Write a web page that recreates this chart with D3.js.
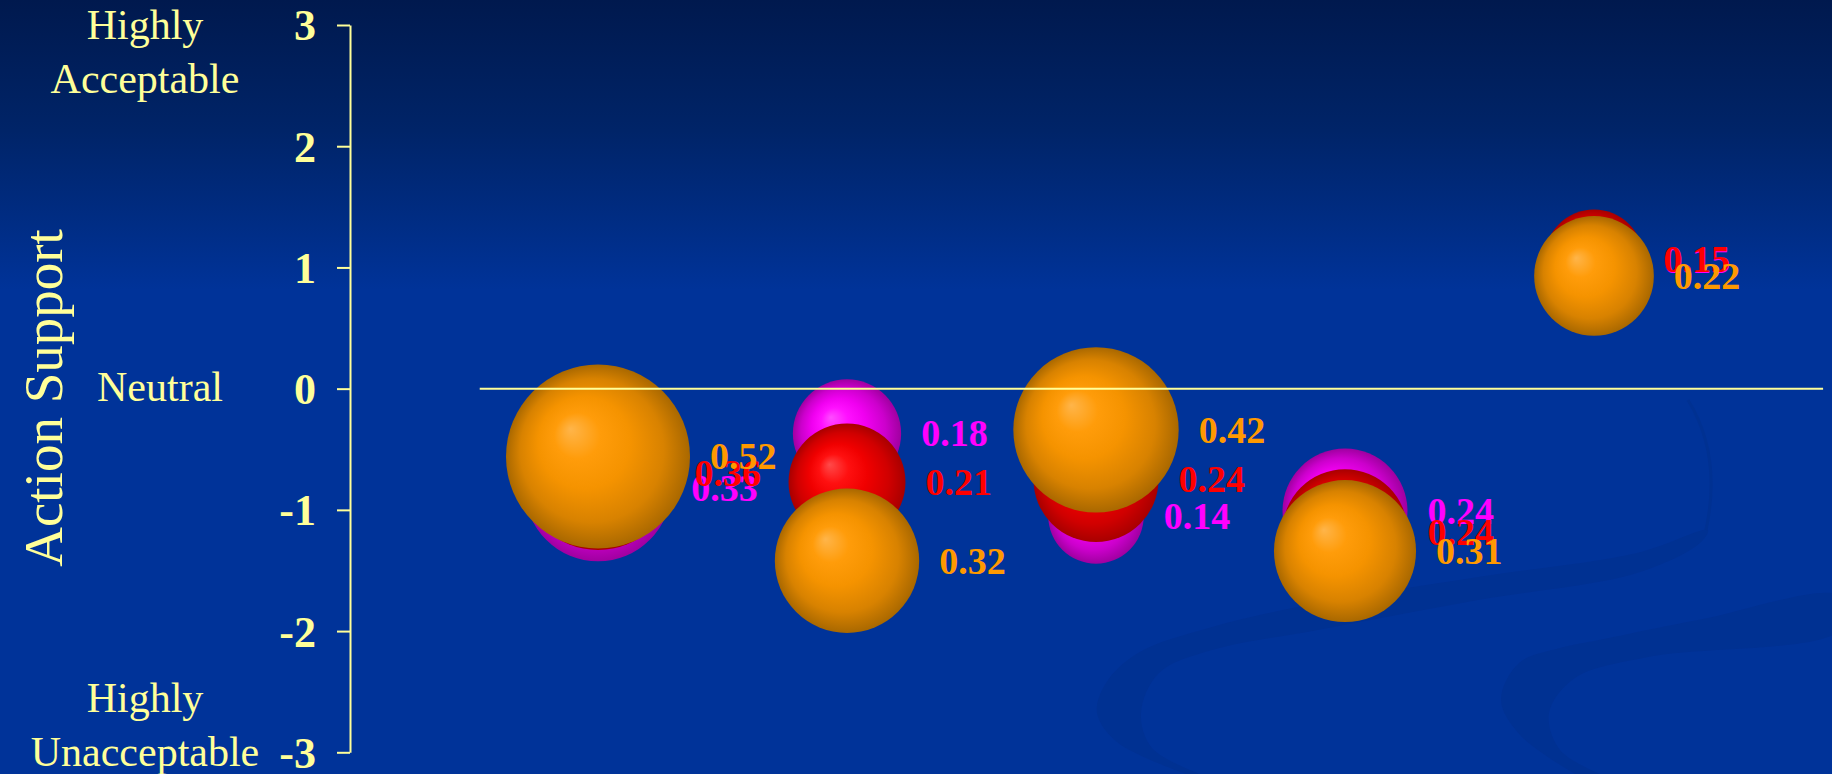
<!DOCTYPE html>
<html>
<head>
<meta charset="utf-8">
<script src="https://cdn.jsdelivr.net/npm/d3@7"></script>
<style>
  html, body { margin: 0; padding: 0; background: #003399; overflow: hidden; }
  svg { display: block; }
</style>
</head>
<body>
<svg id="chart" width="1832" height="774"></svg>
<script>
// ---- data ----
const groups = [1, 2, 3, 4, 5];
const yTicks = [-3, -2, -1, 0, 1, 2, 3];
const magentaY = [-0.82, -0.37, -1.05, -1.01, 1.06];
const magentaSize = [0.33, 0.18, 0.14, 0.24, 0.15];
const redY = [-0.70, -0.77, -0.75, -1.18, 1.07];
const redSize = [0.36, 0.21, 0.24, 0.24, 0.15];
const orangeY = [-0.56, -1.42, -0.34, -1.34, 0.93];
const orangeSize = [0.52, 0.32, 0.42, 0.31, 0.22];
const seriesNames = ["magenta", "red", "orange"];

const W = 1832, H = 774;
const svg = d3.select("#chart");
const defs = svg.append("defs");

// background gradient
const bg = defs.append("linearGradient").attr("id", "bg")
  .attr("gradientUnits", "userSpaceOnUse").attr("x1", 0).attr("y1", 0).attr("x2", 0).attr("y2", 290);
bg.append("stop").attr("offset", 0).attr("stop-color", "#00194e");
bg.append("stop").attr("offset", 0.45).attr("stop-color", "#002468");
bg.append("stop").attr("offset", 1).attr("stop-color", "#003399");
svg.append("rect").attr("width", W).attr("height", H).attr("fill", "url(#bg)");

// decorative swooshes (background art)
const swoosh1 = [[1186,774],[1117,742],[1097,713],[1106,683],[1138,653],[1212,627],[1318,603],[1478,577],[1637,553],[1708,530],
                 [1700,543],[1637,573],[1478,600],[1318,630],[1212,650],[1159,673],[1141,713],[1152,748],[1200,774]];
const swoosh2 = [[1575,774],[1520,735],[1501,700],[1519,663],[1560,648],[1599,640],[1698,620],[1840,596],
                 [1840,630],[1648,657],[1575,678],[1549,713],[1560,750],[1600,774]];
const swColor = "#003192";
svg.append("path").attr("d", d3.line().curve(d3.curveCatmullRom)(swoosh1)).attr("fill", swColor);
svg.append("path").attr("d", d3.line().curve(d3.curveCatmullRom)(swoosh2)).attr("fill", swColor);
svg.append("path").attr("d", "M1688,400 Q1722,455 1706,530").attr("fill", "none")
  .attr("stroke", swColor).attr("stroke-width", 3);

// scales
const x = d3.scaleLinear().domain([0, 6]).range([349, 349 + 6 * 249]);
const y = d3.scaleLinear().domain([-3, 3]).range([752.3, 25]);
const r = d3.scaleSqrt().domain([0, 0.52]).range([0, 92]);

const colors = { magenta: "#FF00FF", red: "#FF0000", orange: "#FF9900" };
const gradStops = {
  orange: ["#FFB54A", "#FF9C0A", "#F59300", "#D88200", "#A96800"],
  red: ["#FF4A4A", "#FF1010", "#F00000", "#D00000", "#A80000"],
  magenta: ["#FF4CFF", "#FF10FF", "#F000F0", "#CC00CC", "#A000A0"]
};
seriesNames.forEach(s => {
  const g = defs.append("radialGradient").attr("id", "g-" + s)
    .attr("cx", "50%").attr("cy", "50%").attr("r", "50%").attr("fx", "35%").attr("fy", "35%");
  const offs = [0, 0.25, 0.5, 0.78, 1];
  gradStops[s].forEach((c, i) => g.append("stop").attr("offset", offs[i]).attr("stop-color", c));
});

const seriesData = {
  magenta: groups.map((g, i) => ({ g, v: magentaY[i], s: magentaSize[i], series: "magenta" })),
  red: groups.map((g, i) => ({ g, v: redY[i], s: redSize[i], series: "red" })),
  orange: groups.map((g, i) => ({ g, v: orangeY[i], s: orangeSize[i], series: "orange" }))
};

// bubbles
seriesNames.forEach(s => {
  svg.append("g").selectAll("circle").data(seriesData[s]).join("circle")
    .attr("cx", d => x(d.g)).attr("cy", d => y(d.v)).attr("r", d => r(d.s))
    .attr("fill", "url(#g-" + s + ")");
});

// zero line
svg.append("line")
  .attr("x1", x(0.525)).attr("x2", x(5.92)).attr("y1", y(0)).attr("y2", y(0))
  .attr("stroke", "#FFFF99").attr("stroke-width", 2);

// labels
seriesNames.forEach(s => {
  svg.append("g").selectAll("text").data(seriesData[s]).join("text")
    .attr("x", d => x(d.g) + r(d.s) + 20).attr("y", d => y(d.v)).attr("dy", "0.34em")
    .attr("font-family", "'Liberation Serif', 'Times New Roman', serif")
    .attr("font-weight", "bold").attr("font-size", 38)
    .attr("fill", colors[s])
    .text(d => d.s.toFixed(2));
});

// y axis
const axis = svg.append("g").attr("transform", "translate(350,0)")
  .call(d3.axisLeft(y).tickValues(yTicks).tickSize(13).tickSizeOuter(0).tickPadding(21).tickFormat(d => String(d)));
axis.select(".domain").attr("stroke", "#FFFF99").attr("stroke-width", 2);
axis.selectAll(".tick line").attr("stroke", "#FFFF99").attr("stroke-width", 2);
axis.selectAll(".tick text")
  .attr("fill", "#FFFF99").attr("font-family", "'Liberation Serif', 'Times New Roman', serif")
  .attr("font-weight", "bold").attr("font-size", 44).attr("dy", "0.34em");

// side labels
const serif = "'Liberation Serif', 'Times New Roman', serif";
function sideText(lines, cx, baseY) {
  const t = svg.append("text").attr("x", cx).attr("y", baseY).attr("text-anchor", "middle")
    .attr("font-family", serif).attr("font-size", 42).attr("fill", "#FFFF99");
  lines.forEach((l, i) => t.append("tspan").attr("x", cx).attr("dy", i === 0 ? 0 : 54).text(l));
}
sideText(["Highly", "Acceptable"], 145, y(3) + 14);
sideText(["Neutral"], 160, y(0) + 12);
sideText(["Highly", "Unacceptable"], 145, y(-3) - 40);

svg.append("text")
  .attr("transform", "translate(62,398) rotate(-90)")
  .attr("text-anchor", "middle")
  .attr("font-family", serif).attr("font-size", 55).attr("fill", "#FFFF99")
  .text("Action Support");
</script>
</body>
</html>
